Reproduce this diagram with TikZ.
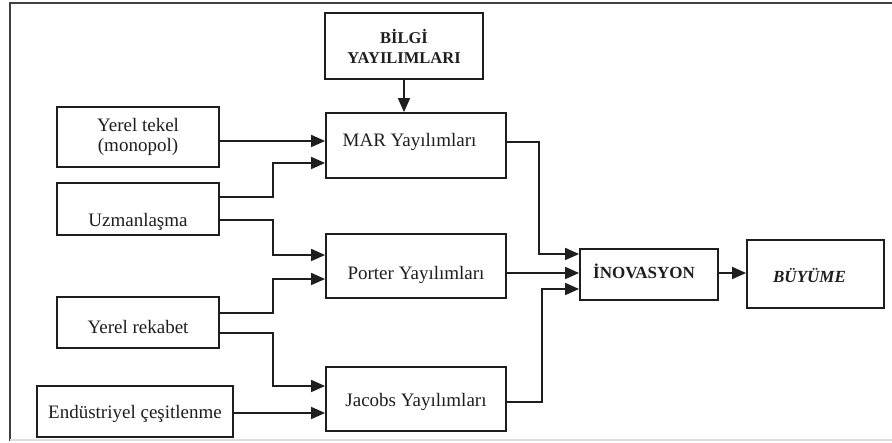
\documentclass[tikz,border=0pt]{standalone}
\usepackage{fontspec}
\setmainfont{Liberation Serif}
\usetikzlibrary{arrows.meta,calc}
\definecolor{ink}{HTML}{1E1E1E}
\tikzset{
  box/.style={draw=ink, line width=1.8pt, inner sep=0pt, text=ink, align=center,
    font=\fontsize{19}{20}\selectfont},
  boldbox/.style={box, font=\fontsize{16.5}{20}\selectfont\bfseries},
  th/.style={text height=#1, text depth=1pt},
  arr/.style={draw=ink, line width=1.7pt, -{Triangle[length=14pt,width=12pt]}},
}
\begin{document}
\begin{tikzpicture}[x=1pt,y=-1pt]
\useasboundingbox (0,0) rectangle (892,443);
% frame
\draw[draw=ink!85, line width=2pt] (10,441) -- (10,3) -- (892,3);
\draw[draw=black!12, line width=1.5pt] (10,440) -- (892,440);

% boxes
\node[boldbox, minimum width=158pt, minimum height=66pt] (bilgi) at (404,46) {B\.{I}LG\.{I}\\YAYILIMLARI};
\node[box, th=13.6pt, text depth=12pt, minimum width=180pt, minimum height=65pt] (mar) at (416,145.5) {MAR Yayılımları\hspace*{13pt}};
\node[box, th=27.6pt, minimum width=180pt, minimum height=64pt] (porter) at (416,266) {Porter Yayılımları};
\node[box, th=15.6pt, minimum width=180pt, minimum height=64pt] (jacobs) at (416,399) {Jacobs Yayılımları};

\node[box, minimum width=162pt, minimum height=60pt] (tekel) at (138,137) {Yerel tekel\\(monopol)};
\node[box, th=35.6pt, minimum width=162pt, minimum height=52pt] (uzm) at (138,209) {Uzmanlaşma};
\node[box, th=22.6pt, minimum width=162pt, minimum height=51pt] (rek) at (138,322.5) {Yerel rekabet};
\node[box, th=14.6pt, minimum width=196pt, minimum height=51pt] (end) at (135,411.5) {Endüstriyel çeşitlenme};

\node[boldbox, font=\fontsize{17}{20}\selectfont\bfseries, th=9.3pt, minimum width=138pt, minimum height=51pt] (ino) at (649,274.5) {\.{I}NOVASYON\hspace*{10pt}};
\node[boldbox, font=\fontsize{17}{20}\selectfont\bfseries\itshape, th=18.3pt, minimum width=137pt, minimum height=68pt] (buy) at (815.5,274) {BÜYÜME\hspace*{12pt}};

% connectors
\draw[arr] (bilgi.south) -- (bilgi.south |- mar.north);

\draw[arr] ([yshift=-4pt]tekel.east) -- ([yshift=4.5pt]mar.west);
\draw[arr] ([yshift=12pt]uzm.east) -- ++(53,0) |- ([yshift=-17.5pt]mar.west);
\draw[arr] ([yshift=-11pt]uzm.east) -- ++(53,0) |- ([yshift=11pt]porter.west);
\draw[arr] ([yshift=9.5pt]rek.east) -- ++(53,0) |- ([yshift=-13pt]porter.west);
\draw[arr] ([yshift=-10.5pt]rek.east) -- ++(53,0) |- ([yshift=13pt]jacobs.west);
\draw[arr] ([yshift=-1.5pt]end.east) -- ([yshift=-14pt]jacobs.west);

\draw[arr] ([yshift=3.5pt]mar.east) -- ++(32,0) |- ([yshift=20.5pt]ino.west);
\draw[arr] ([yshift=-7pt]porter.east) -- ([yshift=1.5pt]ino.west);
\draw[arr] ([yshift=-3pt]jacobs.east) -- ++(35,0) |- ([yshift=-14.5pt]ino.west);

\draw[arr] ([yshift=1.5pt]ino.east) -- ([yshift=1pt]buy.west);
\end{tikzpicture}
\end{document}
